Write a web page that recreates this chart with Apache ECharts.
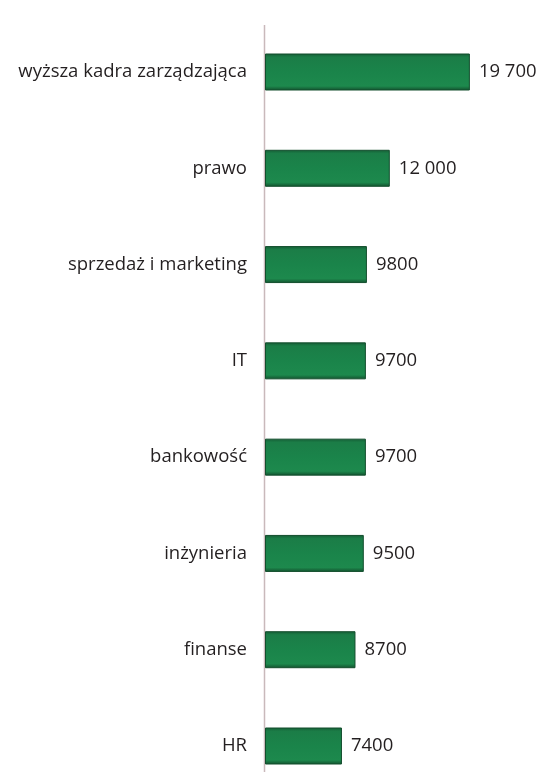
<!DOCTYPE html>
<html>
<head>
<meta charset="utf-8">
<style>html,body{margin:0;padding:0;background:#fff;}#chart{width:538px;height:772px;}</style>
<script src="https://cdn.jsdelivr.net/npm/echarts@6/dist/echarts.min.js"></script>
</head>
<body>
<div id="chart"></div>
<script>
const categories = ["wyższa kadra zarządzająca", "prawo", "sprzedaż i marketing", "IT", "bankowość", "inżynieria", "finanse", "HR"];
const values = [19700, 12000, 9800, 9700, 9700, 9500, 8700, 7400];

function fmt(v) {
  if (v >= 10000) {
    const s = String(v);
    return s.slice(0, s.length - 3) + ' ' + s.slice(s.length - 3);
  }
  return String(v);
}

const chart = echarts.init(document.getElementById('chart'), null, {renderer: 'canvas'});
chart.setOption({
  animation: false,
  grid: {left: 265, top: 72, width: 208, height: 674, containLabel: false},
  graphic: [{
    type: 'line', z: 1,
    shape: {x1: 264.5, y1: 25, x2: 264.5, y2: 772},
    style: {stroke: '#c9b9bb', lineWidth: 1.5}
  }],
  xAxis: {
    type: 'value', min: 0, max: 20000, show: false
  },
  yAxis: {
    type: 'category', data: categories, inverse: true, boundaryGap: false,
    axisLine: {show: false},
    axisTick: {show: false},
    splitLine: {show: false},
    axisLabel: {color: '#231f20', fontSize: 18.5, fontFamily: 'Open Sans', margin: 18}
  },
  series: [{
    type: 'bar', data: values, barWidth: 37, z: 3,
    itemStyle: {
      color: new echarts.graphic.LinearGradient(0, 0, 0, 1, [
        {offset: 0, color: '#155c35'},
        {offset: 0.1, color: '#1b7d47'},
        {offset: 0.5, color: '#1a844a'},
        {offset: 0.88, color: '#1d894d'},
        {offset: 1, color: '#124f2d'}
      ]),
      borderColor: '#134e2d', borderWidth: 1
    },
    label: {
      show: true, position: 'right', distance: 9,
      color: '#231f20', fontSize: 18.5, fontFamily: 'Open Sans',
      formatter: p => fmt(p.value)
    }
  }]
});
</script>
</body>
</html>
